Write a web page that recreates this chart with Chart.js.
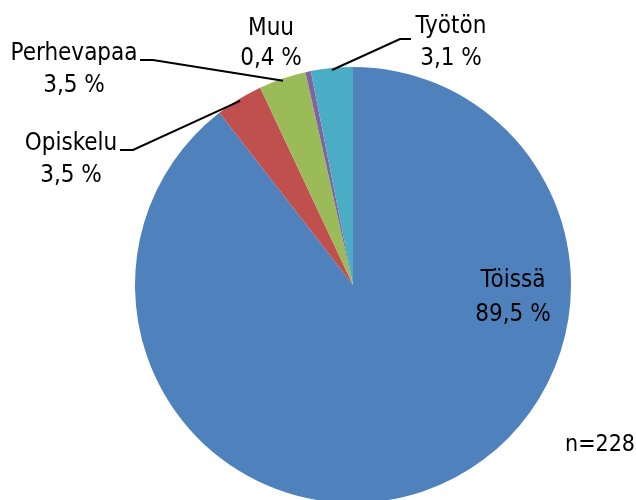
<!DOCTYPE html>
<html>
<head>
<meta charset="utf-8">
<script src="https://cdn.jsdelivr.net/npm/chart.js@4.4.1/dist/chart.umd.min.js"></script>
<style>
    html, body { margin: 0; padding: 0; background: #fff; overflow: hidden; }
    #wrap { width: 636px; height: 500px; overflow: hidden; position: relative; }
</style>
</head>
<body>
<div id="wrap"><canvas id="pieChart" width="636" height="503"></canvas></div>
<script>
// data
const categories = ['Töissä', 'Opiskelu', 'Perhevapaa', 'Muu', 'Työtön'];
const shares = [89.5, 3.5, 3.5, 0.4, 3.1];
const sampleNote = 'n=228';

const colors = ['#4F81BD', '#C0504D', '#9BBB59', '#8064A2', '#4BACC6'];
const FONT = '"Liberation Sans Narrow", "DejaVu Sans Condensed", "Liberation Sans", sans-serif';

// label placement: x center, baselines of the two text lines, optional leader line start
const labelLayout = [
    { x: 513, y1: 287, y2: 321 },
    { x: 71, y1: 150, y2: 182, line: [[120, 150], [133, 150]] },
    { x: 74, y1: 60, y2: 92, line: [[140, 60], [153, 60]] },
    { x: 271, y1: 35, y2: 65 },
    { x: 451, y1: 33, y2: 65, line: [[411, 39], [400, 39]] }
];

function fmtPct(v) {
    return v.toFixed(1).replace('.', ',') + ' %';
}

const pieLabels = {
    id: 'pieLabels',
    afterDatasetsDraw(chart) {
        const c = chart.ctx;
        const arcs = chart.getDatasetMeta(0).data;
        c.save();
        c.fillStyle = '#000';
        c.strokeStyle = '#000';
        c.lineWidth = 2;
        c.font = '24px ' + FONT;
        c.textAlign = 'center';
        c.textBaseline = 'alphabetic';

        arcs.forEach((arc, i) => {
            const p = labelLayout[i];
            if (p.line) {
                const mid = (arc.startAngle + arc.endAngle) / 2;
                const r = arc.outerRadius - 2;
                c.beginPath();
                c.moveTo(p.line[0][0], p.line[0][1]);
                c.lineTo(p.line[1][0], p.line[1][1]);
                c.lineTo(arc.x + Math.cos(mid) * r, arc.y + Math.sin(mid) * r);
                c.stroke();
            }
            c.fillText(categories[i], p.x, p.y1);
            c.fillText(fmtPct(shares[i]), p.x, p.y2);
        });

        c.font = '23px ' + FONT;
        c.fillText(sampleNote, 600, 451);
        c.restore();
    }
};

const ctx = document.getElementById('pieChart').getContext('2d');
new Chart(ctx, {
    type: 'pie',
    data: {
        labels: categories,
        datasets: [{
            data: shares,
            backgroundColor: colors,
            borderWidth: 0
        }]
    },
    options: {
        responsive: false,
        animation: false,
        layout: { padding: { left: 135, right: 65, top: 67, bottom: 0 } },
        plugins: {
            legend: { display: false },
            tooltip: { enabled: false }
        }
    },
    plugins: [pieLabels]
});
</script>
</body>
</html>
